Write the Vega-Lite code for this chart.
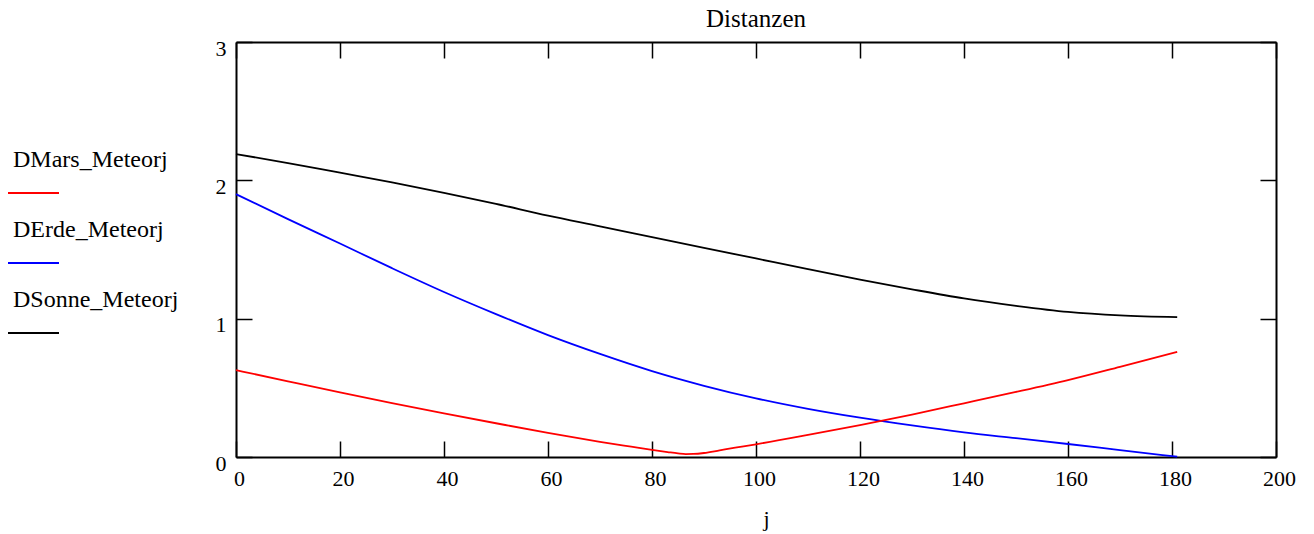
{
  "$schema": "https://vega.github.io/schema/vega-lite/v6.json",
  "width": 1040,
  "height": 415,
  "autosize": "none",
  "padding": {"left": 236, "top": 42, "right": 38, "bottom": 77},
  "background": "white",
  "title": {"text": "Distanzen", "font": "'Liberation Serif', 'Times New Roman', 'DejaVu Serif', serif", "fontSize": 25, "fontWeight": "normal", "color": "black", "offset": 5, "anchor": "middle"},
  "data": {"values": [
    {"series": "DSonne_Meteorj", "j": 0, "D": 2.19},
    {"series": "DSonne_Meteorj", "j": 10, "D": 2.125},
    {"series": "DSonne_Meteorj", "j": 20, "D": 2.055},
    {"series": "DSonne_Meteorj", "j": 30, "D": 1.985},
    {"series": "DSonne_Meteorj", "j": 40, "D": 1.91},
    {"series": "DSonne_Meteorj", "j": 50, "D": 1.83},
    {"series": "DSonne_Meteorj", "j": 60, "D": 1.745},
    {"series": "DSonne_Meteorj", "j": 70, "D": 1.668},
    {"series": "DSonne_Meteorj", "j": 80, "D": 1.59},
    {"series": "DSonne_Meteorj", "j": 90, "D": 1.512},
    {"series": "DSonne_Meteorj", "j": 100, "D": 1.435},
    {"series": "DSonne_Meteorj", "j": 110, "D": 1.358},
    {"series": "DSonne_Meteorj", "j": 120, "D": 1.283},
    {"series": "DSonne_Meteorj", "j": 130, "D": 1.212},
    {"series": "DSonne_Meteorj", "j": 140, "D": 1.146},
    {"series": "DSonne_Meteorj", "j": 150, "D": 1.093},
    {"series": "DSonne_Meteorj", "j": 160, "D": 1.049},
    {"series": "DSonne_Meteorj", "j": 170, "D": 1.024},
    {"series": "DSonne_Meteorj", "j": 181, "D": 1.011},
    {"series": "DErde_Meteorj", "j": 0, "D": 1.9},
    {"series": "DErde_Meteorj", "j": 10, "D": 1.72},
    {"series": "DErde_Meteorj", "j": 20, "D": 1.543},
    {"series": "DErde_Meteorj", "j": 30, "D": 1.365},
    {"series": "DErde_Meteorj", "j": 40, "D": 1.193},
    {"series": "DErde_Meteorj", "j": 50, "D": 1.033},
    {"series": "DErde_Meteorj", "j": 60, "D": 0.881},
    {"series": "DErde_Meteorj", "j": 70, "D": 0.745},
    {"series": "DErde_Meteorj", "j": 80, "D": 0.621},
    {"series": "DErde_Meteorj", "j": 90, "D": 0.515},
    {"series": "DErde_Meteorj", "j": 100, "D": 0.424},
    {"series": "DErde_Meteorj", "j": 110, "D": 0.348},
    {"series": "DErde_Meteorj", "j": 120, "D": 0.284},
    {"series": "DErde_Meteorj", "j": 130, "D": 0.228},
    {"series": "DErde_Meteorj", "j": 140, "D": 0.178},
    {"series": "DErde_Meteorj", "j": 150, "D": 0.136},
    {"series": "DErde_Meteorj", "j": 160, "D": 0.094},
    {"series": "DErde_Meteorj", "j": 170, "D": 0.05},
    {"series": "DErde_Meteorj", "j": 181, "D": 0.002},
    {"series": "DMars_Meteorj", "j": 0, "D": 0.628},
    {"series": "DMars_Meteorj", "j": 10, "D": 0.547},
    {"series": "DMars_Meteorj", "j": 20, "D": 0.467},
    {"series": "DMars_Meteorj", "j": 30, "D": 0.39},
    {"series": "DMars_Meteorj", "j": 40, "D": 0.316},
    {"series": "DMars_Meteorj", "j": 50, "D": 0.244},
    {"series": "DMars_Meteorj", "j": 60, "D": 0.174},
    {"series": "DMars_Meteorj", "j": 70, "D": 0.11},
    {"series": "DMars_Meteorj", "j": 76, "D": 0.075},
    {"series": "DMars_Meteorj", "j": 80, "D": 0.052},
    {"series": "DMars_Meteorj", "j": 83, "D": 0.036},
    {"series": "DMars_Meteorj", "j": 85, "D": 0.026},
    {"series": "DMars_Meteorj", "j": 86.5, "D": 0.021},
    {"series": "DMars_Meteorj", "j": 88, "D": 0.022},
    {"series": "DMars_Meteorj", "j": 90, "D": 0.029},
    {"series": "DMars_Meteorj", "j": 93, "D": 0.048},
    {"series": "DMars_Meteorj", "j": 96, "D": 0.067},
    {"series": "DMars_Meteorj", "j": 100, "D": 0.092},
    {"series": "DMars_Meteorj", "j": 110, "D": 0.16},
    {"series": "DMars_Meteorj", "j": 120, "D": 0.231},
    {"series": "DMars_Meteorj", "j": 130, "D": 0.307},
    {"series": "DMars_Meteorj", "j": 140, "D": 0.388},
    {"series": "DMars_Meteorj", "j": 150, "D": 0.47},
    {"series": "DMars_Meteorj", "j": 160, "D": 0.556},
    {"series": "DMars_Meteorj", "j": 170, "D": 0.652},
    {"series": "DMars_Meteorj", "j": 181, "D": 0.76}
  ]},
  "layer": [
    {
      "mark": {"type": "line", "strokeWidth": 1.8, "interpolate": "monotone"},
      "encoding": {
        "x": {"field": "j", "type": "quantitative", "scale": {"domain": [0, 200], "nice": false, "zero": false},
          "axis": {"orient": "bottom", "values": [0, 20, 40, 60, 80, 100, 120, 140, 160, 180, 200], "tickSize": -16, "tickWidth": 1.5, "tickColor": "black", "domainColor": "black", "domainWidth": 2, "labelFont": "'Liberation Serif', 'Times New Roman', 'DejaVu Serif', serif", "labelFontSize": 22, "labelColor": "black", "labelPadding": 27, "labelOffset": 3, "labelFlush": false, "labelOverlap": false, "grid": false, "title": "j", "titleFont": "'Liberation Serif', 'Times New Roman', 'DejaVu Serif', serif", "titleFontSize": 22, "titleFontWeight": "normal", "titleColor": "black", "titleX": 530, "titleY": 68, "titleBaseline": "alphabetic"}},
        "y": {"field": "D", "type": "quantitative", "scale": {"domain": [0, 3], "nice": false},
          "axis": {"orient": "left", "values": [0, 1, 2, 3], "tickSize": -16, "tickWidth": 1.5, "tickColor": "black", "domainColor": "black", "domainWidth": 2, "labelFont": "'Liberation Serif', 'Times New Roman', 'DejaVu Serif', serif", "labelFontSize": 22, "labelColor": "black", "labelPadding": 26, "labelOffset": 6, "labelFlush": false, "labelOverlap": false, "grid": false, "title": null}},
        "color": {"field": "series", "type": "nominal",
          "scale": {"domain": ["DMars_Meteorj", "DErde_Meteorj", "DSonne_Meteorj"], "range": ["#ff0000", "#0000ff", "#000000"]},
          "legend": {"orient": "none", "legendX": -229, "legendY": 91.5, "title": null, "symbolType": "M-1,1.29L1,1.29", "symbolSize": 2601, "symbolStrokeWidth": 2, "labelFont": "'Liberation Serif', 'Times New Roman', 'DejaVu Serif', serif", "labelFontSize": 24, "labelColor": "black", "labelOffset": -47, "rowPadding": 6, "padding": 0, "labelLimit": 300}}
      }
    },
    {
      "mark": {"type": "line", "strokeOpacity": 0},
      "encoding": {
        "x": {"field": "j", "type": "quantitative", "scale": {"domain": [0, 200], "nice": false, "zero": false},
          "axis": {"orient": "top", "values": [0, 20, 40, 60, 80, 100, 120, 140, 160, 180, 200], "tickSize": -16, "tickWidth": 1.5, "tickColor": "black", "domainColor": "black", "domainWidth": 2, "labels": false, "grid": false, "title": null}},
        "y": {"field": "D", "type": "quantitative", "scale": {"domain": [0, 3], "nice": false},
          "axis": {"orient": "right", "values": [0, 1, 2, 3], "tickSize": -16, "tickWidth": 1.5, "tickColor": "black", "domainColor": "black", "domainWidth": 2, "labels": false, "grid": false, "title": null}},
        "detail": {"field": "series", "type": "nominal"}
      }
    }
  ],
  "resolve": {"axis": {"x": "independent", "y": "independent"}},
  "config": {"view": {"stroke": null}}
}
